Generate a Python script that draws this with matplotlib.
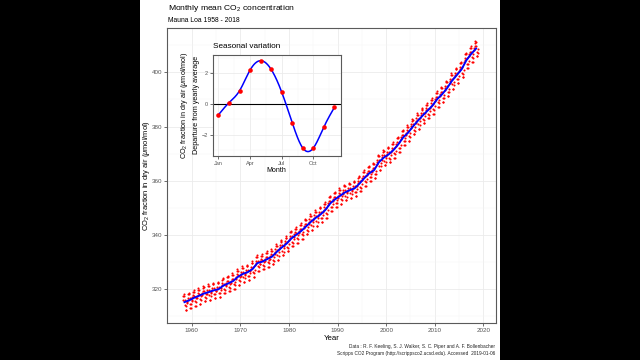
import numpy as np
import matplotlib
matplotlib.use("Agg")
import matplotlib.pyplot as plt
from matplotlib.patches import Rectangle

plt.rcParams['font.family'] = ['Liberation Sans', 'DejaVu Sans']
plt.rcParams['mathtext.fontset'] = 'custom'
plt.rcParams['mathtext.rm'] = 'Liberation Sans'
plt.rcParams['mathtext.it'] = 'Liberation Sans:italic'

# ---- data ----
years = list(range(1958, 2019))
annual_mean = [315.3, 315.98, 316.91, 317.64, 318.45, 318.99, 319.62, 320.04, 321.37, 322.18,
               323.05, 324.62, 325.68, 326.32, 327.46, 329.68, 330.19, 331.13, 332.03, 333.84,
               335.41, 336.84, 338.76, 340.12, 341.48, 343.15, 344.87, 346.35, 347.61, 349.31,
               351.69, 353.20, 354.45, 355.70, 356.54, 357.21, 358.96, 360.97, 362.74, 363.88,
               366.84, 368.54, 369.71, 371.32, 373.45, 375.98, 377.70, 379.98, 382.09, 384.02,
               385.83, 387.64, 390.10, 391.85, 394.06, 396.74, 398.87, 401.01, 404.41, 406.76,
               408.72]
months = list(range(1, 13))
month_labels = ['Jan', 'Apr', 'Jul', 'Oct']
seasonal = [-0.70, 0.09, 0.87, 2.22, 2.83, 2.26, 0.78, -1.22, -2.87, -2.87, -1.50, -0.22]

# monthly records (start March 1958)
t_month, co2_month = [], []
for y, a in zip(years, annual_mean):
    for m, s in zip(months, seasonal):
        if y == 1958 and m < 3:
            continue
        t_month.append(y + (m - 0.5) / 12)
        co2_month.append(a + s)

fig = plt.figure(figsize=(6.4, 3.6), dpi=100, facecolor='black')
fig.patches.append(Rectangle((140/640, 0), 360/640, 1, transform=fig.transFigure,
                             facecolor='white', edgecolor='none', zorder=-1))

W, H = 640, 360
def axrect(l, t, r, b):
    return [l/W, 1 - b/H, (r-l)/W, (b-t)/H]

def style(ax, fs):
    ax.set_facecolor('white')
    for sp in ax.spines.values():
        sp.set_color('#5a5a5a')
        sp.set_linewidth(0.8)
    ax.grid(True, which='major', color='#ebebeb', lw=0.6, zorder=0)
    ax.grid(True, which='minor', color='#f4f4f4', lw=0.35, zorder=0)
    ax.set_axisbelow(True)
    ax.tick_params(which='major', length=2, width=0.5, color='#333333',
                   labelsize=fs, labelcolor='#555555', pad=1.5)
    ax.tick_params(which='minor', length=0)

# ---- main axes ----
ax = fig.add_axes(axrect(167, 28, 496, 323))
style(ax, 4.5)
ax.plot(t_month, co2_month, 'o', color='red', ms=1.5, mew=0, zorder=2)
ax.plot(np.array(years) + 0.5, annual_mean, color='blue', lw=1.4, zorder=3)
ax.set_xlim(1954.9, 2022.6)
ax.set_ylim(307.6, 416.3)
ax.set_xticks([1960, 1970, 1980, 1990, 2000, 2010, 2020])
ax.set_xticks([1955, 1965, 1975, 1985, 1995, 2005, 2015], minor=True)
ax.set_yticks([320, 340, 360, 380, 400])
ax.set_yticks([310, 330, 350, 370, 390, 410], minor=True)

fig.text(168/W, 1 - 9.5/H, 'Monthly mean CO$_2$ concentration', fontsize=6.1, ha='left', va='baseline')
fig.text(168/W, 1 - 22.5/H, 'Mauna Loa 1958 - 2018', fontsize=4.9, ha='left', va='baseline')
fig.text(146.5/W, 1 - 175.5/H, 'CO$_2$ fraction in dry air ($\\mu$mol/mol)', fontsize=5.4,
         rotation=90, ha='center', va='center')
fig.text(331.5/W, 1 - 340/H, 'Year', fontsize=5.6, ha='center', va='baseline')
fig.text(495/W, 1 - 348/H, 'Data : R. F. Keeling, S. J. Walker, S. C. Piper and A. F. Bollenbacher',
         fontsize=3.45, ha='right', va='baseline', color='#222222')
fig.text(495/W, 1 - 354.5/H, 'Scripps CO2 Program (http://scrippsco2.ucsd.edu). Accessed  2019-01-06',
         fontsize=3.45, ha='right', va='baseline', color='#222222')

# ---- inset ----
ai = fig.add_axes(axrect(212.7, 55, 340.7, 155.7))
style(ai, 4.0)
mx = np.array(months, dtype=float)
sv = np.array(seasonal)

# natural cubic spline smoother through the monthly points
n = len(mx)
h = np.diff(mx)
A = np.zeros((n, n)); rhs = np.zeros(n)
A[0, 0] = A[-1, -1] = 1
for i in range(1, n - 1):
    A[i, i-1] = h[i-1]; A[i, i] = 2*(h[i-1] + h[i]); A[i, i+1] = h[i]
    rhs[i] = 6*((sv[i+1]-sv[i])/h[i] - (sv[i]-sv[i-1])/h[i-1])
M = np.linalg.solve(A, rhs)
xf = np.linspace(1, 12, 400)
idx = np.clip(np.searchsorted(mx, xf) - 1, 0, n - 2)
x0, x1 = mx[idx], mx[idx+1]; hh = x1 - x0
yf = (M[idx]*(x1-xf)**3/(6*hh) + M[idx+1]*(xf-x0)**3/(6*hh)
      + (sv[idx]/hh - M[idx]*hh/6)*(x1-xf) + (sv[idx+1]/hh - M[idx+1]*hh/6)*(xf-x0))

ai.axhline(0, color='black', lw=0.8, zorder=1)
ai.plot(xf, yf, color='blue', lw=1.1, zorder=2)
ai.plot(mx, sv, 'o', color='red', ms=3.3, mew=0, zorder=3)
ai.set_xlim(0.45, 12.6)
ai.set_ylim(-3.37, 3.2)
ai.set_xticks([1, 4, 7, 10])
ai.set_xticklabels(month_labels)
ai.set_xticks([2.5, 5.5, 8.5, 11.5], minor=True)
ai.set_yticks([-2, 0, 2])
ai.set_yticks([-3, -1, 1, 3], minor=True)

fig.text(212.7/W, 1 - 48.5/H, 'Seasonal variation', fontsize=5.85, ha='left', va='baseline')
fig.text(184/W, 1 - 105.3/H, 'CO$_2$ fraction in dry air ($\\mu$mol/mol)', fontsize=5.2,
         rotation=90, ha='center', va='center')
fig.text(196.5/W, 1 - 105.3/H, 'Departure from yearly average', fontsize=5.2,
         rotation=90, ha='center', va='center')
fig.text(276.7/W, 1 - 171.5/H, 'Month', fontsize=5.0, ha='center', va='baseline')

fig.savefig('out.png', dpi=100, facecolor='black')
